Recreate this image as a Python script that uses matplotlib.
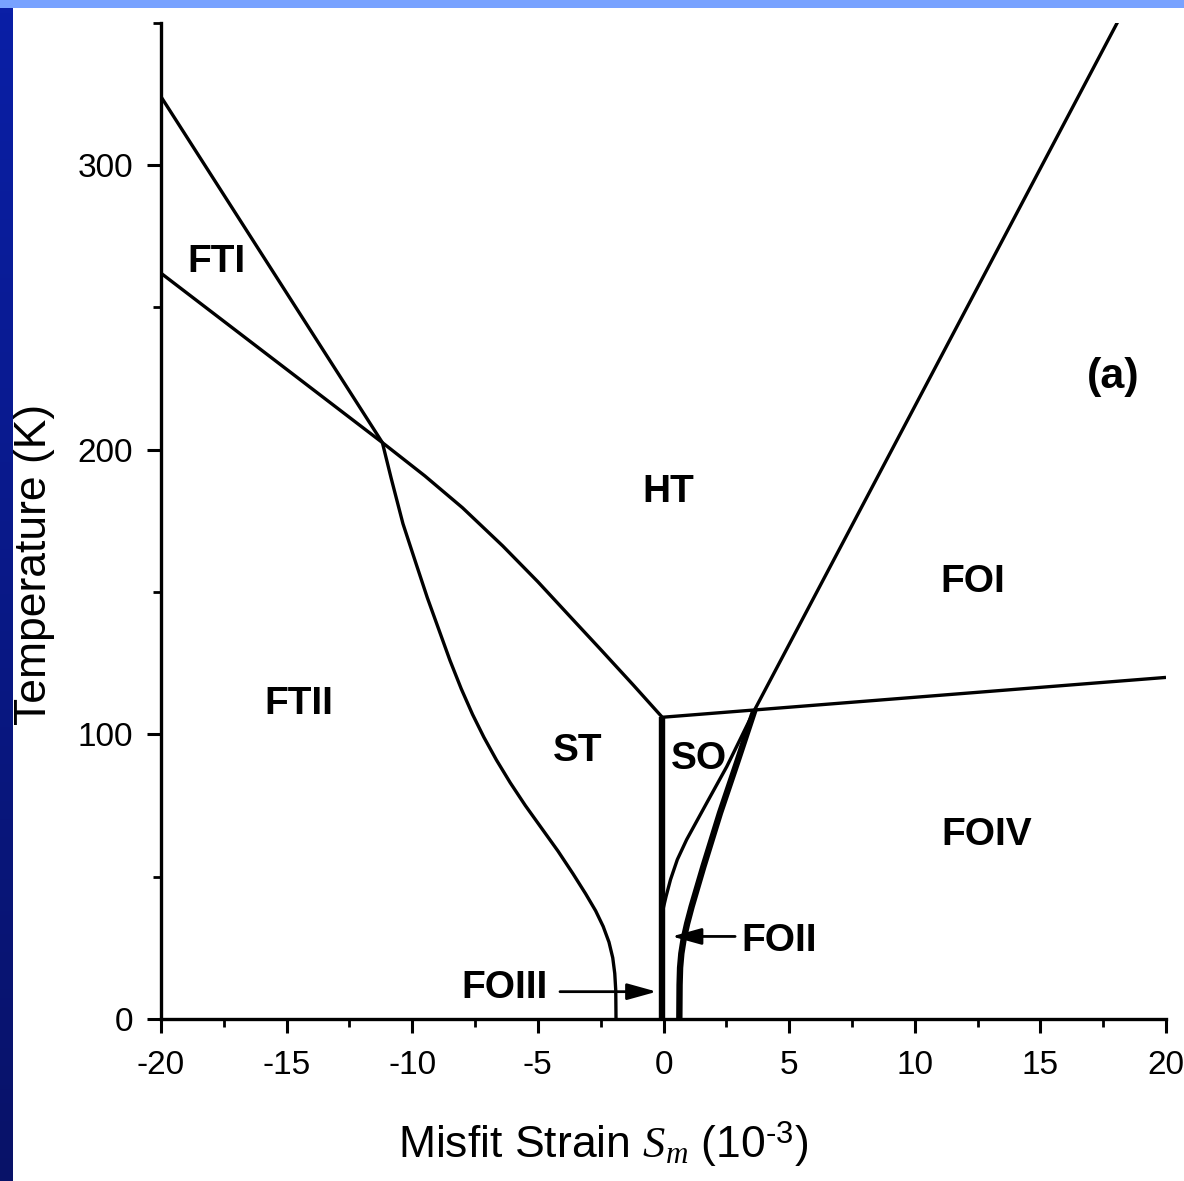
import matplotlib
matplotlib.use("Agg")
import matplotlib.pyplot as plt
import numpy as np

plt.rcParams['font.family'] = ['Liberation Sans', 'DejaVu Sans']
plt.rcParams['mathtext.fontset'] = 'custom'
plt.rcParams['mathtext.rm'] = 'Liberation Sans'
plt.rcParams['mathtext.it'] = 'Liberation Serif:italic'
plt.rcParams['axes.unicode_minus'] = False

# phase boundaries, misfit strain (1e-3) vs temperature (K)
ftI_st_s = [-20.0, -11.19, -10.84, -10.37, -9.85, -9.40, -8.95, -8.50, -8.05,
            -7.60, -7.15, -6.65, -6.10, -5.50, -4.85, -4.20, -3.60, -3.10,
            -2.70, -2.40, -2.17, -2.02, -1.94, -1.90, -1.89]
ftI_st_t = [324, 202.5, 190, 174, 160, 148, 137, 126, 116,
            107, 99, 91, 83, 75, 67, 59, 51, 44,
            38, 32.5, 27, 21.5, 16, 10, 0]

ftII_ht_s = [-20.0, -11.19, -9.5, -8.0, -6.4, -5.0, -3.7, -2.5, -1.2, -0.05]
ftII_ht_t = [262, 202.5, 190.8, 179.6, 166.2, 153.6, 141.2, 129.8, 117.3, 106]

ht_so_s = [-0.05, 20.0]
ht_so_t = [106, 120]

foI_s = [3.62, 18.12]
foI_t = [108.5, 351]

foII_foIV_s = [3.62, 2.92, 2.25, 1.59, 1.12, 0.94, 0.80, 0.71, 0.66, 0.64, 0.63]
foII_foIV_t = [108.5, 89.9, 72.4, 53.6, 39.5, 33.5, 28, 23, 18, 12, 0]

so_foII_s = [3.62, 2.52, 1.72, 0.92, 0.55, 0.28, 0.10, -0.02, -0.05]
so_foII_t = [108.5, 88.7, 75.9, 63, 56, 49, 43, 38.5, 35]

st_so_s = [-0.05, -0.05]
st_so_t = [106, 0]

# region names
phase_names = ["FTI", "HT", "FOI", "FTII", "ST", "SO", "FOIV"]
phase_s = [-17.8, 0.2, 12.3, -14.5, -3.4, 1.4, 12.85]
phase_t = [266, 185, 153.5, 110.5, 94, 91.5, 64.5]

fig = plt.figure(figsize=(11.84, 11.81), dpi=100)

# slide frame: light top band and dark blue left band
top_band = fig.add_axes([0, 1 - 8 / 1181, 1, 8 / 1181])
top_band.set_facecolor('#78a2ff')
top_band.set_xticks([])
top_band.set_yticks([])
for sp in top_band.spines.values():
    sp.set_visible(False)

left_band = fig.add_axes([0, 0, 12.5 / 1184, 1 - 8 / 1181])
grad = np.linspace(0, 1, 256).reshape(-1, 1)
left_band.imshow(grad, aspect='auto', extent=[0, 1, 0, 1],
                 cmap=matplotlib.colors.LinearSegmentedColormap.from_list(
                     'band', ['#0a1fa6', '#081268']), origin='upper')
left_band.axis('off')

ax = fig.add_axes([161 / 1184, 1 - 1019 / 1181, 1005 / 1184, (1019 - 22.7) / 1181])

thin = 2.4
thick = 4.6
kw = dict(color='black', solid_joinstyle='round', solid_capstyle='butt')
ax.plot(ftI_st_s, ftI_st_t, lw=thin, **kw)
ax.plot(ftII_ht_s, ftII_ht_t, lw=thin, **kw)
ax.plot(ht_so_s, ht_so_t, lw=thin, **kw)
ax.plot(foI_s, foI_t, lw=thin, **kw)
ax.plot(so_foII_s, so_foII_t, lw=thin, **kw)
ax.plot(foII_foIV_s, foII_foIV_t, lw=thick, **kw)
ax.plot(st_so_s, st_so_t, lw=thick, **kw)

for name, s, t in zip(phase_names, phase_s, phase_t):
    ax.text(s, t, name, fontsize=28, fontweight='bold', ha='center', va='center')

ax.text(17.9, 225.5, "(a)", fontsize=31, fontweight='bold', ha='center', va='center')

# labels with arrows for the narrow phases
arrow = dict(arrowstyle='-|>,head_length=0.9,head_width=0.25',
             color='black', lw=2, shrinkA=0, shrinkB=0, mutation_scale=20)
ax.text(3.1, 27.5, "FOII", fontsize=28, fontweight='bold', ha='left', va='center')
ax.annotate("", xy=(0.33, 29.0), xytext=(2.85, 29.0), arrowprops=arrow)
ax.text(-4.6, 10.9, "FOIII", fontsize=28, fontweight='bold', ha='right', va='center')
ax.annotate("", xy=(-0.27, 9.6), xytext=(-4.12, 9.6), arrowprops=arrow)

ax.set_xlim(-20, 20)
ax.set_ylim(0, 350)
ax.set_xticks(np.arange(-20, 21, 5))
ax.set_xticks(np.arange(-17.5, 20, 5), minor=True)
ax.set_yticks([0, 100, 200, 300])
ax.set_yticks([50, 150, 250, 350], minor=True)

ax.spines['top'].set_visible(False)
ax.spines['right'].set_visible(False)
ax.spines['left'].set_linewidth(2.4)
ax.spines['bottom'].set_linewidth(2.4)
ax.tick_params(which='major', direction='out', length=10, width=2.2,
               labelsize=24)
ax.tick_params(axis='x', which='major', pad=12)
ax.tick_params(axis='y', which='major', pad=10)
ax.tick_params(which='minor', direction='out', length=5.5, width=2.0)

ax.set_xlabel(r"Misfit Strain $S_m$ (10$^{\text{-3}}$)", fontsize=32)
ax.set_ylabel("Temperature (K)", fontsize=32)
ax.xaxis.set_label_coords(0.44, -0.101)
ax.yaxis.set_label_coords(-0.1055, 0.456)

fig.savefig("out.png", dpi=100)
